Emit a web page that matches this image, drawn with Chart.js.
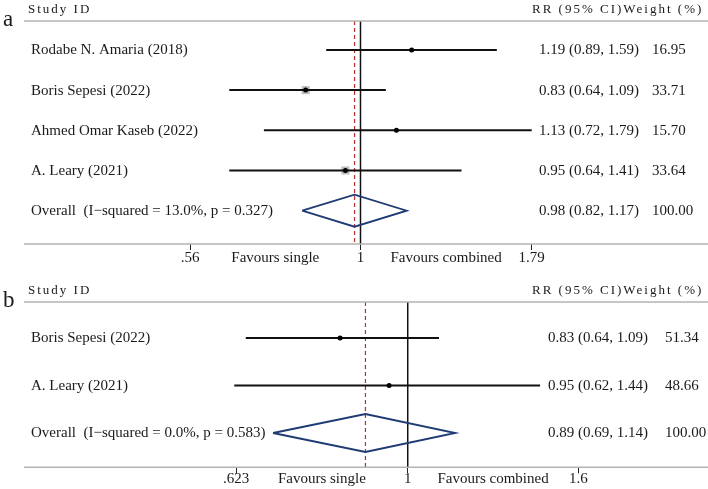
<!DOCTYPE html>
<html>
<head>
<meta charset="utf-8">
<script src="https://cdn.jsdelivr.net/npm/chart.js@4.4.1/dist/chart.umd.min.js"></script>
<style>
  body { margin: 0; background: #fff; }
  .panel { position: absolute; left: 0; }
</style>
</head>
<body>
<div class="panel" style="top:0"><canvas id="chartA" width="708" height="268"></canvas></div>
<div class="panel" style="top:268px"><canvas id="chartB" width="708" height="221"></canvas></div>
<script>
// panel a
const studiesA = ["Rodabe N. Amaria (2018)", "Boris Sepesi (2022)", "Ahmed Omar Kaseb (2022)", "A. Leary (2021)"];
const rrA = [1.19, 0.83, 1.13, 0.95];
const lowA = [0.89, 0.64, 0.72, 0.64];
const highA = [1.59, 1.09, 1.79, 1.41];
const weightA = [16.95, 33.71, 15.70, 33.64];
const overallLabelA = "Overall  (I\u2212squared = 13.0%, p = 0.327)";
const overallA = [0.98, 0.82, 1.17];   // RR, low, high
const tickValsA = [0.56, 1, 1.79];
const tickLabelsA = [".56", "1", "1.79"];

// panel b
const studiesB = ["Boris Sepesi (2022)", "A. Leary (2021)"];
const rrB = [0.83, 0.95];
const lowB = [0.64, 0.62];
const highB = [1.09, 1.44];
const weightB = [51.34, 48.66];
const overallLabelB = "Overall  (I\u2212squared = 0.0%, p = 0.583)";
const overallB = [0.89, 0.69, 1.14];
const tickValsB = [0.623, 1, 1.6];
const tickLabelsB = [".623", "1", "1.6"];

const favourLabels = ["Favours single", "Favours combined"];

const FONT = "'Liberation Serif', 'Times New Roman', serif";
const INK = '#1a1a1a';

function fmt(v) { return v.toFixed(2); }

function makePanel(id, p) {
  const n = p.studies.length;
  const oRow = n + 1;
  const [oRR, oLo, oHi] = p.overall;

  // ticks: real ticks plus the two "Favours" labels halfway between them
  const tickList = [p.tickVals[0], Math.sqrt(p.tickVals[0] * p.tickVals[1]), p.tickVals[1],
                    Math.sqrt(p.tickVals[1] * p.tickVals[2]), p.tickVals[2]];
  const tickText = [p.tickLabels[0], favourLabels[0], p.tickLabels[1], favourLabels[1], p.tickLabels[2]];

  const datasets = [];
  // null line
  datasets.push({
    data: [{x: 1, y: p.yMin}, {x: 1, y: p.yMax}],
    showLine: true, borderColor: '#111', borderWidth: 1.5, pointRadius: 0, order: 5, clip: false
  });
  // overall estimate, dashed
  datasets.push({
    data: [{x: oRR, y: p.yMin}, {x: oRR, y: p.yMax}],
    showLine: true, borderColor: '#b5302f', borderWidth: 1.2, borderDash: [4, 3], pointRadius: 0, order: 4, clip: false
  });
  // weight boxes
  datasets.push({
    data: p.rr.map((v, i) => ({x: v, y: i + 1})),
    showLine: false, pointStyle: 'rect', backgroundColor: '#bdbdbd', borderWidth: 0,
    pointRadius: p.weight.map(w => Math.max(0, (w - p.boxCut) * p.boxK) / 1.414),
    order: 6, clip: false
  });
  // confidence intervals
  p.studies.forEach((s, i) => {
    datasets.push({
      data: [{x: p.low[i], y: i + 1}, {x: p.high[i], y: i + 1}],
      showLine: true, borderColor: '#111', borderWidth: 2, pointRadius: 0, order: 3, clip: false
    });
  });
  // point estimates
  datasets.push({
    data: p.rr.map((v, i) => ({x: v, y: i + 1})),
    showLine: false, pointStyle: 'circle', pointRadius: 2.5, backgroundColor: '#000', borderWidth: 0,
    order: 1, clip: false
  });
  // overall diamond
  const dh = 0.4;
  datasets.push({
    data: [{x: oLo, y: oRow}, {x: oRR, y: oRow - dh}, {x: oHi, y: oRow}, {x: oRR, y: oRow + dh}, {x: oLo, y: oRow}],
    showLine: true, borderColor: '#1f3b73', borderWidth: 1.8, pointRadius: 0, tension: 0, order: 2, clip: false
  });

  const textPlugin = {
    id: 'forestText',
    afterDraw(chart) {
      const ctx = chart.ctx;
      const area = chart.chartArea;
      const ys = chart.scales.y;
      ctx.save();
      // grey rules
      ctx.strokeStyle = '#b4b4b4';
      ctx.lineWidth = 1.5;
      ctx.beginPath();
      ctx.moveTo(24, area.top); ctx.lineTo(708, area.top);
      ctx.moveTo(24, area.bottom); ctx.lineTo(708, area.bottom);
      ctx.stroke();

      ctx.fillStyle = INK;
      // panel letter
      ctx.font = '23px ' + FONT;
      ctx.textBaseline = 'alphabetic';
      ctx.fillText(p.letter, 3, area.top + 4.5);

      // headers
      ctx.font = '13px ' + FONT;
      ctx.letterSpacing = '2px';
      ctx.fillText('Study ID', 28, area.top - 8);
      ctx.fillText('RR (95% CI)Weight (%)', 532, area.top - 8);
      ctx.letterSpacing = '0px';

      // rows
      ctx.font = '15px ' + FONT;
      ctx.textBaseline = 'middle';
      p.studies.forEach((s, i) => {
        const y = ys.getPixelForValue(i + 1) + 0.5;
        ctx.fillText(s, 31, y);
        ctx.fillText(fmt(p.rr[i]) + ' (' + fmt(p.low[i]) + ', ' + fmt(p.high[i]) + ')', p.valX, y);
        ctx.fillText(fmt(p.weight[i]), p.wX, y);
      });
      const yo = ys.getPixelForValue(oRow) + 0.5;
      ctx.fillText(p.overallLabel, 31, yo);
      ctx.fillText(fmt(oRR) + ' (' + fmt(oLo) + ', ' + fmt(oHi) + ')', p.valX, yo);
      ctx.fillText('100.00', p.wX, yo);
      ctx.restore();
    }
  };

  return new Chart(document.getElementById(id), {
    type: 'scatter',
    data: { datasets: datasets },
    options: {
      responsive: false,
      animation: false,
      events: [],
      layout: { padding: { left: p.padL, right: p.padR, top: p.padT, bottom: 0 } },
      plugins: { legend: {display: false}, tooltip: {enabled: false} },
      scales: {
        x: {
          type: 'logarithmic',
          bounds: 'data',
          min: p.tickVals[0],
          max: p.tickVals[2],
          afterBuildTicks: s => {
            s.ticks = tickList.map(v => ({value: v}));
            s.min = p.tickVals[0];
            s.max = p.tickVals[2];
          },
          afterFit: s => { s.height = p.axisH; },
          border: {display: false},
          grid: {
            drawOnChartArea: false, drawTicks: true, tickLength: 6, tickWidth: 1,
            tickColor: c => (c.index === 1 || c.index === 3) ? 'rgba(0,0,0,0)' : '#222'
          },
          ticks: {
            autoSkip: false, maxRotation: 0, minRotation: 0, padding: p.tickPad, color: INK,
            font: {family: FONT, size: 15, lineHeight: 1},
            callback: (v, i) => tickText[i]
          }
        },
        y: { type: 'linear', reverse: true, min: p.yMin, max: p.yMax, display: false }
      }
    },
    plugins: [textPlugin]
  });
}

makePanel('chartA', {
  letter: 'a', studies: studiesA, rr: rrA, low: lowA, high: highA, weight: weightA,
  overallLabel: overallLabelA, overall: overallA, tickVals: tickValsA, tickLabels: tickLabelsA,
  padL: 190, padR: 176.3, padT: 21, axisH: 24, tickPad: 1,
  yMin: 0.28, yMax: 5.83, valX: 539, wX: 652, boxCut: 15, boxK: 0.43
});

makePanel('chartB', {
  letter: 'b', studies: studiesB, rr: rrB, low: lowB, high: highB, weight: weightB,
  overallLabel: overallLabelB, overall: overallB, tickVals: tickValsB, tickLabels: tickLabelsB,
  padL: 236, padR: 129.7, padT: 34, axisH: 21.7, tickPad: -2,
  yMin: 0.242, yMax: 3.722, valX: 548, wX: 665, boxCut: 40, boxK: 0.35
});
</script>
</body>
</html>
